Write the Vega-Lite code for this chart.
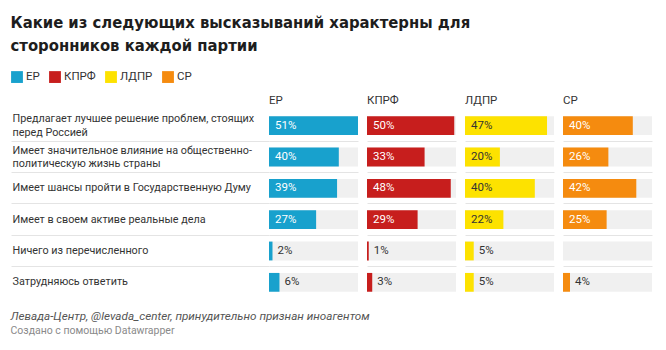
{
  "$schema": "https://vega.github.io/schema/vega-lite/v6.json",
  "background": "white",
  "padding": {"left": 10, "right": 10, "top": 14, "bottom": 5},
  "title": {
    "text": ["Какие из следующих высказываний характерны для", "сторонников каждой партии"],
    "anchor": "start",
    "font": "DejaVu Sans Condensed, sans-serif",
    "fontSize": 16.5,
    "fontWeight": "bold",
    "color": "#1d1d1d",
    "lineHeight": 23,
    "offset": 17
  },
  "data": {
    "values": [
      {"q": "Предлагает лучшее решение проблем, стоящих|перед Россией", "party": "ЕР", "v": 0.51},
      {"q": "Предлагает лучшее решение проблем, стоящих|перед Россией", "party": "КПРФ", "v": 0.50},
      {"q": "Предлагает лучшее решение проблем, стоящих|перед Россией", "party": "ЛДПР", "v": 0.47},
      {"q": "Предлагает лучшее решение проблем, стоящих|перед Россией", "party": "СР", "v": 0.40},
      {"q": "Имеет значительное влияние на общественно-|политическую жизнь страны", "party": "ЕР", "v": 0.40},
      {"q": "Имеет значительное влияние на общественно-|политическую жизнь страны", "party": "КПРФ", "v": 0.33},
      {"q": "Имеет значительное влияние на общественно-|политическую жизнь страны", "party": "ЛДПР", "v": 0.20},
      {"q": "Имеет значительное влияние на общественно-|политическую жизнь страны", "party": "СР", "v": 0.26},
      {"q": "Имеет шансы пройти в Государственную Думу", "party": "ЕР", "v": 0.39},
      {"q": "Имеет шансы пройти в Государственную Думу", "party": "КПРФ", "v": 0.48},
      {"q": "Имеет шансы пройти в Государственную Думу", "party": "ЛДПР", "v": 0.40},
      {"q": "Имеет шансы пройти в Государственную Думу", "party": "СР", "v": 0.42},
      {"q": "Имеет в своем активе реальные дела", "party": "ЕР", "v": 0.27},
      {"q": "Имеет в своем активе реальные дела", "party": "КПРФ", "v": 0.29},
      {"q": "Имеет в своем активе реальные дела", "party": "ЛДПР", "v": 0.22},
      {"q": "Имеет в своем активе реальные дела", "party": "СР", "v": 0.25},
      {"q": "Ничего из перечисленного", "party": "ЕР", "v": 0.02},
      {"q": "Ничего из перечисленного", "party": "КПРФ", "v": 0.01},
      {"q": "Ничего из перечисленного", "party": "ЛДПР", "v": 0.05},
      {"q": "Ничего из перечисленного", "party": "СР", "v": null},
      {"q": "Затрудняюсь ответить", "party": "ЕР", "v": 0.06},
      {"q": "Затрудняюсь ответить", "party": "КПРФ", "v": 0.03},
      {"q": "Затрудняюсь ответить", "party": "ЛДПР", "v": 0.05},
      {"q": "Затрудняюсь ответить", "party": "СР", "v": 0.04}
    ]
  },
  "vconcat": [
    {
      "title": {
        "text": "Левада-Центр, @levada_center, принудительно признан иноагентом",
        "subtitle": "Создано с помощью Datawrapper",
        "orient": "bottom",
        "anchor": "start",
        "font": "Roboto",
        "fontStyle": "italic",
        "fontWeight": "normal",
        "fontSize": 11.7,
        "color": "#555555",
        "subtitleFont": "Roboto",
        "subtitleFontSize": 10.5,
        "subtitleColor": "#8a8a8a",
        "subtitlePadding": 3,
        "offset": 13
      },
      "facet": {
        "column": {
          "field": "party",
          "type": "nominal",
          "sort": ["ЕР", "КПРФ", "ЛДПР", "СР"],
          "title": null,
          "header": {
            "labelAnchor": "start",
            "labelAlign": "left",
            "labelFont": "Roboto",
            "labelFontSize": 11.5,
            "labelColor": "#333333",
            "labelPadding": 4
          }
        }
      },
      "spacing": 9,
      "spec": {
        "width": 89,
        "height": 188,
        "encoding": {
          "y": {
            "field": "q",
            "type": "nominal",
            "sort": [
              "Предлагает лучшее решение проблем, стоящих|перед Россией",
              "Имеет значительное влияние на общественно-|политическую жизнь страны",
              "Имеет шансы пройти в Государственную Думу",
              "Имеет в своем активе реальные дела",
              "Ничего из перечисленного",
              "Затрудняюсь ответить"
            ],
            "scale": {"paddingInner": 0.4, "paddingOuter": 0.2},
            "axis": {
              "title": null,
              "domain": false,
              "bandPosition": 1.333,
              "ticks": true,
              "tickSize": 258,
              "tickColor": {"condition": {"test": "datum.value === 'Затрудняюсь ответить'", "value": "transparent"}, "value": "#e4e4e4"},
              "grid": true,
              "gridColor": {"condition": {"test": "datum.value === 'Затрудняюсь ответить'", "value": "transparent"}, "value": "#e4e4e4"},
              "labelAlign": "left",
              "labelBaseline": "middle",
              "labelPadding": -1,
              "labelOffset": {"condition": {"test": "indexof(datum.value, '|') >= 0", "value": -6.5}, "value": 0},
              "labelExpr": "split(datum.label, '|')",
              "labelFont": "Roboto",
              "labelFontSize": 10.8,
              "labelLineHeight": 13.5,
              "labelColor": "#333333",
              "labelLimit": 300,
              "labelOverlap": false,
              "labelFlush": false
            }
          }
        },
        "layer": [
          {
            "mark": {"type": "bar", "color": "#f0f0f0"},
            "encoding": {"x": {"value": 0}, "x2": {"value": "width"}}
          },
          {
            "mark": {"type": "bar"},
            "encoding": {
              "x": {"field": "v", "type": "quantitative", "scale": {"nice": false, "zero": true}, "axis": null},
              "color": {
                "field": "party",
                "type": "nominal",
                "scale": {"domain": ["ЕР", "КПРФ", "ЛДПР", "СР"], "range": ["#18a1cd", "#c71e1d", "#fde200", "#f58b0f"]},
                "legend": {
                  "orient": "none",
                  "legendX": -258,
                  "legendY": -39,
                  "direction": "horizontal",
                  "title": null,
                  "symbolType": "square",
                  "symbolSize": 140,
                  "symbolStrokeWidth": 0,
                  "symbolOpacity": 1,
                  "labelFont": "Roboto",
                  "labelFontSize": 11.5,
                  "labelColor": "#333333",
                  "labelOffset": 3,
                  "columnPadding": 9
                }
              }
            }
          },
          {
            "transform": [{"filter": "isValid(datum.v) && datum.v >= 0.1"}],
            "mark": {"type": "text", "align": "left", "baseline": "middle", "dx": 6, "font": "Roboto", "fontSize": 11.5},
            "encoding": {
              "x": {"datum": 0, "type": "quantitative", "axis": null},
              "text": {"field": "v", "type": "quantitative", "format": ".0%"},
              "color": {"condition": {"test": "datum.party === 'ЛДПР'", "value": "#333333"}, "value": "#ffffff"}
            }
          },
          {
            "transform": [{"filter": "isValid(datum.v) && datum.v < 0.1"}],
            "mark": {"type": "text", "align": "left", "baseline": "middle", "dx": 5, "font": "Roboto", "fontSize": 11.5, "color": "#333333"},
            "encoding": {
              "x": {"field": "v", "type": "quantitative", "axis": null},
              "text": {"field": "v", "type": "quantitative", "format": ".0%"}
            }
          }
        ]
      }
    }
  ],
  "config": {
    "view": {"stroke": null},
    "concat": {"spacing": 0}
  }
}
